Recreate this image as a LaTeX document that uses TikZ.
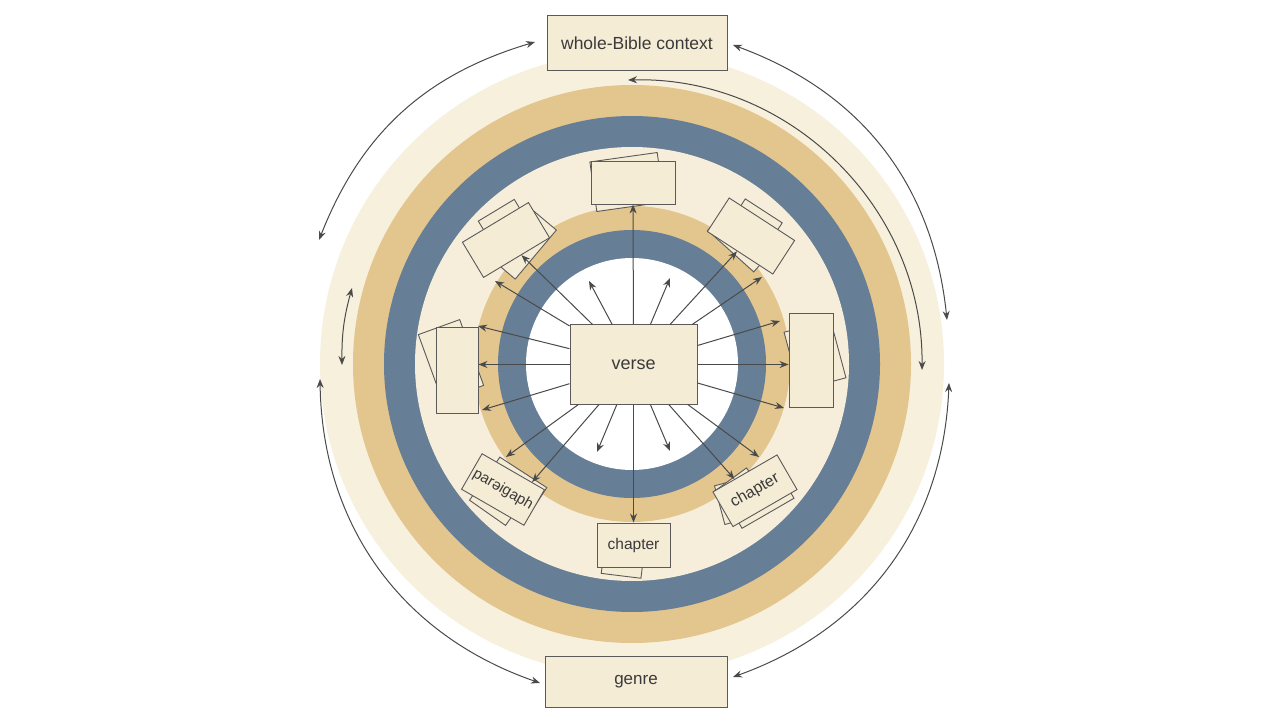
\documentclass[tikz,border=0pt]{standalone}
\usepackage{fontspec}
\setmainfont{Liberation Sans}
\usetikzlibrary{arrows.meta,calc}
\definecolor{creamA}{HTML}{F7F0DD}
\definecolor{creamB}{HTML}{F6EEDA}
\definecolor{goldA}{HTML}{E3C58E}
\definecolor{blueA}{HTML}{667F96}
\definecolor{paperA}{HTML}{F5ECD6}
\definecolor{inkA}{HTML}{4A4A4A}
\definecolor{lineA}{HTML}{5A5A5A}
\definecolor{txtA}{HTML}{3A3A3A}
\newcommand\myfs[1]{\fontsize{#1}{#1}\selectfont}
\begin{document}
\begin{tikzpicture}[x=1pt,y=1pt,
  box/.style={draw=lineA,line width=1pt,fill=paperA,text=txtA,inner sep=0pt},
  sheet/.style={draw=lineA,line width=0.9pt,fill=paperA,text=txtA,inner sep=0pt},
  backsheet/.style={draw=lineA,line width=0.9pt,fill=paperA},
  rayarrow/.style={draw=inkA,line width=1pt,-{Stealth[length=9pt,width=7pt]}},
  twoway/.style={draw=inkA,line width=1pt,{Stealth[length=9pt,width=7pt]}-{Stealth[length=9pt,width=7pt]}},
]
\fill[white] (0,0) rectangle (1263,721);
\useasboundingbox (0,0) rectangle (1263,721);

% rings
\coordinate (ctr) at (632,357);
\fill[creamA] (ctr) circle[radius=312pt];
\fill[goldA]  (ctr) circle[radius=279pt];
\fill[blueA]  (ctr) circle[radius=248pt];
\fill[creamB] (ctr) circle[radius=217pt];
\fill[goldA]  (ctr) circle[radius=158pt];
\fill[blueA]  (ctr) circle[radius=134pt];
\fill[white]  (ctr) circle[radius=106pt];

% outer boxes
\node[box,minimum width=180pt,minimum height=55pt,font=\myfs{17.5}] (whole) at (637,677.5) {whole-Bible context};
\node[box,minimum width=182pt,minimum height=51pt,font=\myfs{17}] (genre) at (636,39.5) {genre};

% outer curved arrows
\coordinate (tl1) at (535,679);
\coordinate (tl2) at (319,481);
\coordinate (tr1) at (733,676);
\coordinate (tr2) at (947,401);
\coordinate (in1) at (628,641);
\coordinate (in2) at (922,351);
\coordinate (sm1) at (352,433);
\coordinate (sm2) at (342,356);
\coordinate (bl1) at (320,342);
\coordinate (bl2) at (540,38);
\coordinate (br1) at (949,338);
\coordinate (br2) at (733,44);
\draw[twoway] (tl1) to[bend right=26] (tl2);
\draw[twoway] (tr1) to[bend left=32] (tr2);
\draw[twoway] (in1) to[bend left=46] (in2);
\draw[twoway] (sm1) to[bend right=8] (sm2);
\draw[twoway] (bl1) to[bend right=35] (bl2);
\draw[twoway] (br1) to[bend left=34] (br2);

% top card
\filldraw[backsheet,shift={(627,539)},rotate=8] (-34,-25) rectangle (34,25);
\node[sheet,minimum width=84pt,minimum height=43pt] (topC) at (633,538.5) {};

% upper-left card
\begin{scope}[shift={(506,481)},rotate=31]
  \filldraw[backsheet,shift={(7,10)}] (-21,-20.5) rectangle (21,20.5);
\end{scope}
\filldraw[backsheet,shift={(522,478)},rotate=50] (-32,-18) rectangle (32,18);
\node[sheet,minimum width=77pt,minimum height=41pt,rotate=31] (ulC) at (506,481) {};

% upper-right card
\begin{scope}[shift={(751,485)},rotate=-33]
  \filldraw[backsheet,shift={(-3,8)}] (-22,-20) rectangle (22,20);
  \filldraw[backsheet,shift={(-6,-6)},rotate=-9] (-31,-18) rectangle (31,18);
\end{scope}
\node[sheet,minimum width=78pt,minimum height=40pt,rotate=-33] (urC) at (751,485) {};

% left card
\filldraw[backsheet,shift={(451,361)},rotate=20] (-22,-35) rectangle (22,35);
\node[sheet,minimum width=42pt,minimum height=86pt] (leftC) at (457,351) {};

% right card
\filldraw[backsheet,shift={(815,366)},rotate=15] (-24,-30) rectangle (24,30);
\node[sheet,minimum width=44pt,minimum height=94pt] (rightC) at (811,361) {};

% paragraph card
\begin{scope}[shift={(503,231.5)},rotate=-30]
  \filldraw[backsheet,shift={(8,6)},rotate=-3] (-28,-19) rectangle (28,19);
  \filldraw[backsheet,shift={(0,-8)},rotate=-5] (-22,-20) rectangle (22,20);
\end{scope}
\node[sheet,minimum width=72pt,minimum height=41pt,rotate=-30,font=\myfs{15}] (paraC) at (503,231.5) {parəigaph};

% right chapter card
\filldraw[backsheet,shift={(739,221)},rotate=15] (-20,-20) rectangle (20,20);
\begin{scope}[shift={(755,230.25)},rotate=30]
  \filldraw[backsheet,shift={(0,-7)}] (-30,-19) rectangle (30,19);
  \filldraw[backsheet,shift={(-14,4)},rotate=6] (-20,-18) rectangle (20,18);
\end{scope}
\node[sheet,minimum width=74pt,minimum height=40pt,rotate=30,font=\myfs{16}] (chapR) at (755,230.25) {chapter};

% bottom chapter card
\filldraw[backsheet,shift={(624,169)},rotate=-7] (-20,-24) rectangle (20,24);
\node[sheet,minimum width=73pt,minimum height=44pt,font=\myfs{15.5}] (chapB) at (633.5,176) {chapter};

% verse
\node[box,minimum width=127pt,minimum height=79pt,font=\myfs{18}] (verse) at (633.5,356.5) {verse};

% ray end points
\coordinate (e2) at (589,440);
\coordinate (e3) at (670,443);
\coordinate (e5) at (495,440);
\coordinate (e7) at (762,444);
\coordinate (e9) at (478,395);
\coordinate (e11) at (482,311);
\coordinate (e12) at (780,400);
\coordinate (e14) at (784,313);
\coordinate (e16) at (597,269);
\coordinate (e17) at (670,270);
\coordinate (e18) at (506,264);
\coordinate (e20) at (759,264);

% rays
\draw[rayarrow] (verse) -- (topC);
\draw[rayarrow] (verse) -- (e2);
\draw[rayarrow] (verse) -- (e3);
\draw[rayarrow] (verse) -- (ulC);
\draw[rayarrow] (verse) -- (e5);
\draw[rayarrow] (verse) -- (urC);
\draw[rayarrow] (verse) -- (e7);
\draw[rayarrow] (verse) -- (e9);
\draw[rayarrow] (verse.west) -- (verse.west -| leftC.east);
\draw[rayarrow] (verse) -- (e11);
\draw[rayarrow] (verse) -- (e12);
\draw[rayarrow] (verse.east) -- (verse.east -| rightC.west);
\draw[rayarrow] (verse) -- (e14);
\draw[rayarrow] (verse) -- (chapB);
\draw[rayarrow] (verse) -- (e16);
\draw[rayarrow] (verse) -- (e17);
\draw[rayarrow] (verse) -- (e18);
\draw[rayarrow] (verse) -- ($(paraC.north)!0.59!(paraC.north east)$);
\draw[rayarrow] (verse) -- (e20);
\draw[rayarrow] (verse) -- ($(chapR.north)!0.32!(chapR.north west)$);
\end{tikzpicture}
\end{document}
